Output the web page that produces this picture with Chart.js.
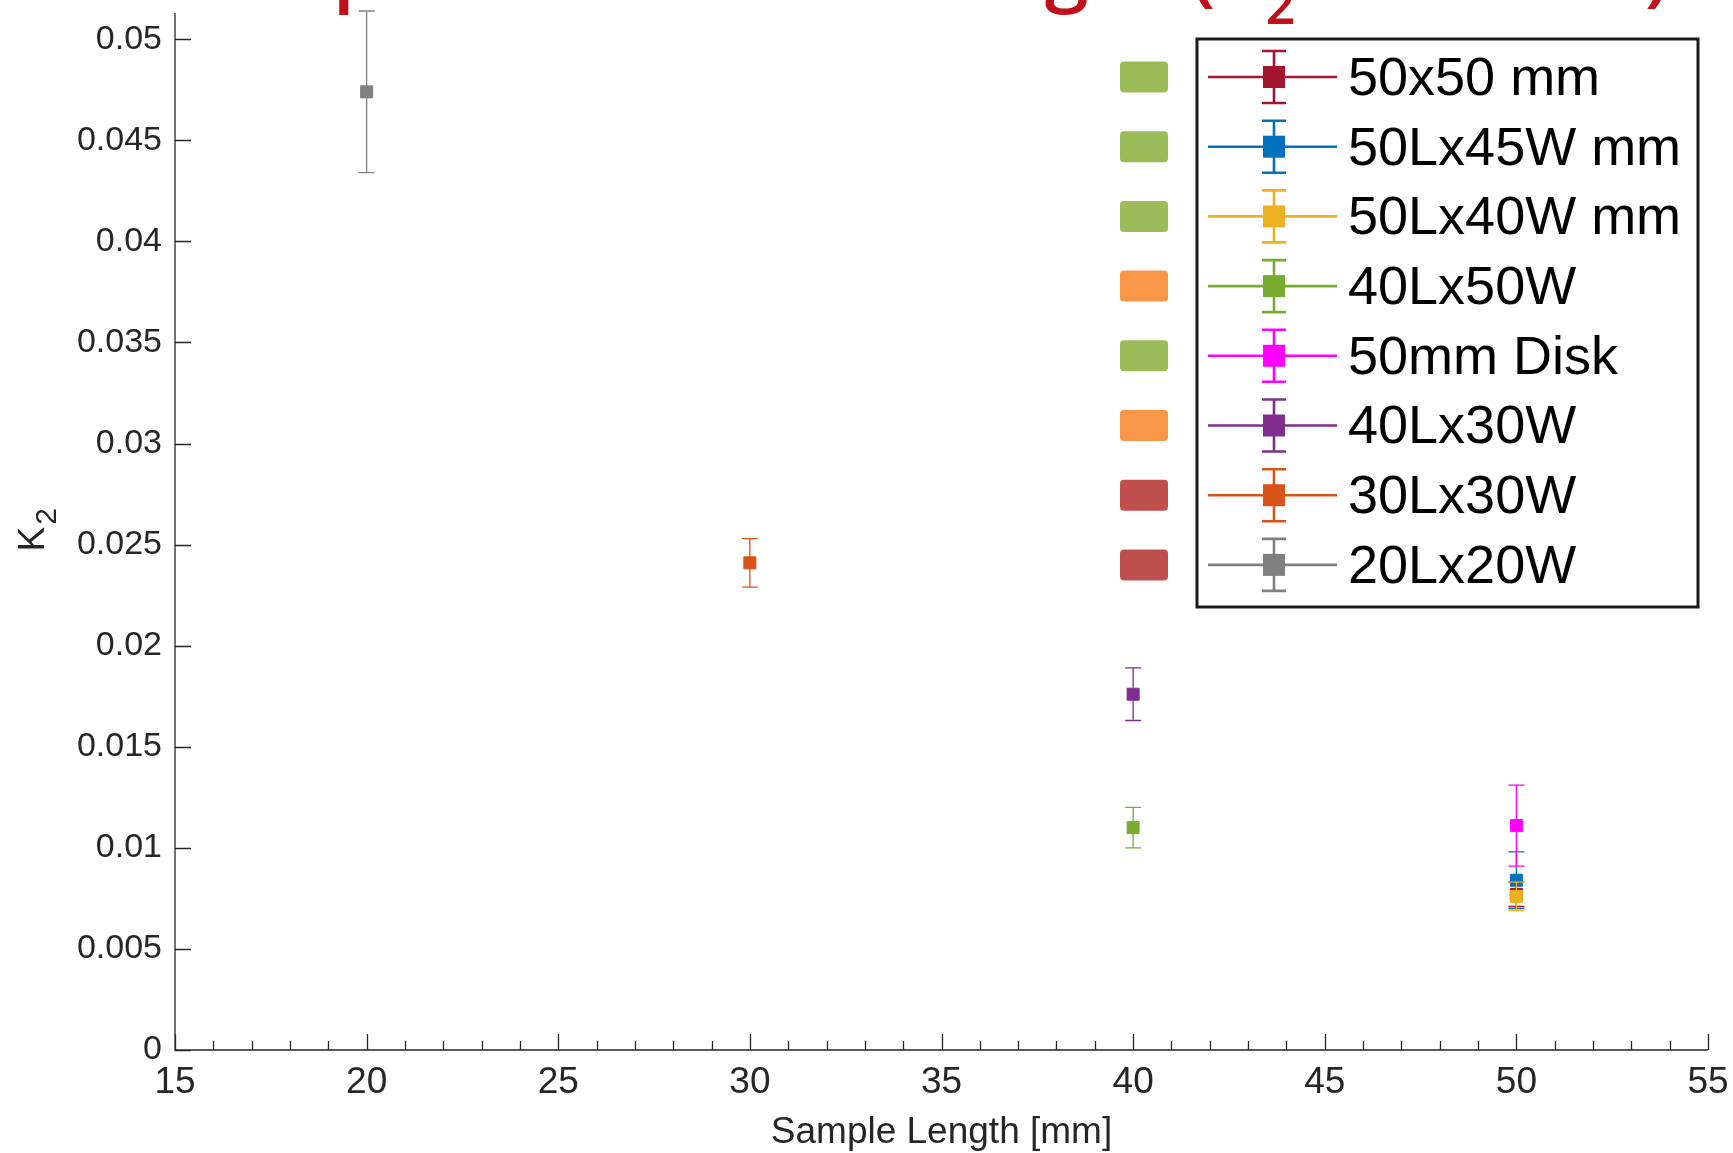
<!DOCTYPE html>
<html>
<head>
<meta charset="utf-8">
<title>K2 vs Sample Length</title>
<script src="https://cdn.jsdelivr.net/npm/chart.js@4.4.0/dist/chart.umd.min.js"></script>
<style>
  html, body { margin: 0; padding: 0; background: #fff; }
  canvas { display: block; }
</style>
</head>
<body>
<canvas id="chart" width="1733" height="1153"></canvas>
<script>
// series, in the order they were plotted (later ones sit on top)
const seriesNames = ["50x50 mm", "50Lx45W mm", "50Lx40W mm", "40Lx50W", "50mm Disk", "40Lx30W", "30Lx30W", "20Lx20W"];
const seriesColors = ["#A2142F", "#0072BD", "#EDB120", "#77AC30", "#FF00FF", "#7E2F8E", "#D95319", "#808080"];
const sampleLength = [50, 50, 50, 40, 50, 40, 30, 20];
const k2Values = [0.0077, 0.0084, 0.0076, 0.0110, 0.0111, 0.0176, 0.0241, 0.0474];
const k2Errors = [0.0006, 0.0014, 0.0007, 0.0010, 0.0020, 0.0013, 0.0012, 0.0040];

// axes
const xTicks = [15, 20, 25, 30, 35, 40, 45, 50, 55];
const yTicks = [0, 0.005, 0.01, 0.015, 0.02, 0.025, 0.03, 0.035, 0.04, 0.045, 0.05];
const yTickLabels = ["0", "0.005", "0.01", "0.015", "0.02", "0.025", "0.03", "0.035", "0.04", "0.045", "0.05"];

// coloured bullets left of the legend (slide decoration)
const bulletColors = ["#9BBB59", "#9BBB59", "#9BBB59", "#F79646", "#9BBB59", "#F79646", "#C0504D", "#C0504D"];

// slide title, mostly cut off at the top edge
const titleParts = [
  { text: "Comparison across Length (K" },
  { text: "2", sub: true },
  { text: "/Sections)" },
];

const AXIS_COLOR = "#262626";
const FONT = "'Liberation Sans', Arial, sans-serif";

const datasets = seriesNames.map((name, i) => ({
  label: name,
  data: [{ x: sampleLength[i], y: k2Values[i] }],
  backgroundColor: seriesColors[i],
  borderColor: seriesColors[i],
  borderWidth: 1,
  pointStyle: "rect",
  pointRadius: 8.5,
  showLine: false,
  order: seriesNames.length - 1 - i,
}));

// error bar of each series, drawn right before its marker
const errorBars = {
  id: "errorBars",
  beforeDatasetDraw(chart, args) {
    const i = args.index;
    const { ctx, scales } = chart;
    const px = scales.x.getPixelForValue(sampleLength[i]);
    const top = scales.y.getPixelForValue(k2Values[i] + k2Errors[i]);
    const bot = scales.y.getPixelForValue(k2Values[i] - k2Errors[i]);
    const cap = 8;
    ctx.save();
    ctx.strokeStyle = seriesColors[i];
    ctx.lineWidth = 1.3;
    ctx.beginPath();
    ctx.moveTo(px, top); ctx.lineTo(px, bot);
    ctx.moveTo(px - cap, top); ctx.lineTo(px + cap, top);
    ctx.moveTo(px - cap, bot); ctx.lineTo(px + cap, bot);
    ctx.stroke();
    ctx.restore();
  },
};

// MATLAB style axes: only left and bottom lines, ticks pointing inward
const matlabAxes = {
  id: "matlabAxes",
  afterDatasetsDraw(chart) {
    const { ctx, chartArea: a, scales } = chart;
    ctx.save();
    ctx.strokeStyle = AXIS_COLOR;
    ctx.lineWidth = 1.3;
    ctx.beginPath();
    ctx.moveTo(a.left, a.top); ctx.lineTo(a.left, a.bottom); ctx.lineTo(a.right, a.bottom);
    yTicks.forEach((v) => {
      const py = Math.round(scales.y.getPixelForValue(v)) + 0.5;
      ctx.moveTo(a.left, py); ctx.lineTo(a.left + 16, py);
    });
    for (let v = xTicks[0]; v <= xTicks[xTicks.length - 1]; v++) {
      const px = Math.round(scales.x.getPixelForValue(v)) + 0.5;
      const len = xTicks.includes(v) ? 16 : 9;
      ctx.moveTo(px, a.bottom); ctx.lineTo(px, a.bottom - len);
    }
    ctx.stroke();

    // y axis label: K with a subscript 2, rotated
    ctx.fillStyle = AXIS_COLOR;
    ctx.translate(44, (a.top + a.bottom) / 2 + 6);
    ctx.rotate(-Math.PI / 2);
    ctx.textBaseline = "alphabetic";
    ctx.font = "37px " + FONT;
    ctx.fillText("K", -14, 0);
    const kw = ctx.measureText("K").width;
    ctx.font = "30px " + FONT;
    ctx.fillText("2", -14 + kw + 2, 12);
    ctx.restore();
  },
};

const legendBox = {
  id: "legendBox",
  afterDraw(chart) {
    const { ctx } = chart;
    const box = { left: 1197, top: 39, right: 1698, bottom: 607 };
    const firstY = 77, stepY = 69.7;
    ctx.save();
    ctx.fillStyle = "#fff";
    ctx.fillRect(box.left, box.top, box.right - box.left, box.bottom - box.top);
    ctx.strokeStyle = "#1a1a1a";
    ctx.lineWidth = 3;
    ctx.strokeRect(box.left, box.top, box.right - box.left, box.bottom - box.top);

    ctx.font = "54px " + FONT;
    ctx.textBaseline = "middle";
    seriesNames.forEach((name, i) => {
      const cy = firstY + i * stepY;
      const cx = 1274;
      ctx.strokeStyle = seriesColors[i];
      ctx.fillStyle = seriesColors[i];
      ctx.lineWidth = 2.6;
      ctx.beginPath();
      ctx.moveTo(1208, cy); ctx.lineTo(1337, cy);
      ctx.moveTo(cx, cy - 26); ctx.lineTo(cx, cy + 26);
      ctx.moveTo(cx - 12, cy - 26); ctx.lineTo(cx + 12, cy - 26);
      ctx.moveTo(cx - 12, cy + 26); ctx.lineTo(cx + 12, cy + 26);
      ctx.stroke();
      ctx.fillRect(cx - 11, cy - 11, 22, 22);
      ctx.fillStyle = "#000";
      ctx.fillText(name, 1348, cy + 3);

      // bullet square at the left
      ctx.fillStyle = bulletColors[i];
      ctx.beginPath();
      ctx.roundRect(1120, cy - 15.5, 48, 31, 4);
      ctx.fill();
    });
    ctx.restore();
  },
};

const slideTitle = {
  id: "slideTitle",
  afterDraw(chart) {
    const { ctx } = chart;
    ctx.save();
    ctx.fillStyle = "#C0101C";
    ctx.textBaseline = "alphabetic";
    let x = 159;
    titleParts.forEach((p) => {
      ctx.font = (p.sub ? "600 52px" : "600 79px") + " 'Open Sans', sans-serif";
      ctx.fillText(p.text, x, p.sub ? 24 : -4);
      x += ctx.measureText(p.text).width;
    });
    ctx.restore();
  },
};

new Chart(document.getElementById("chart"), {
  type: "scatter",
  data: { datasets },
  options: {
    responsive: false,
    animation: false,
    layout: { padding: { top: 13, right: 25, left: 0, bottom: 0 } },
    plugins: {
      legend: { display: false },
      tooltip: { enabled: false },
    },
    scales: {
      x: {
        type: "linear",
        min: 15,
        max: 55,
        grid: { display: false, drawTicks: false },
        border: { display: false },
        afterBuildTicks: (scale) => { scale.ticks = xTicks.map((v) => ({ value: v })); },
        afterFit: (scale) => {
          scale.height = 103;
          scale.paddingLeft = 0;
          scale.paddingRight = 0;
        },
        ticks: {
          autoSkip: false,
          maxRotation: 0,
          padding: 11,
          color: AXIS_COLOR,
          font: { family: FONT, size: 37 },
          callback: (v) => String(v),
        },
        title: {
          display: true,
          text: "Sample Length [mm]",
          color: AXIS_COLOR,
          font: { family: FONT, size: 37, lineHeight: 1.1 },
          padding: { top: 0, bottom: 0 },
        },
      },
      y: {
        type: "linear",
        min: 0,
        max: 0.0513,
        grid: { display: false, drawTicks: false },
        border: { display: false },
        afterBuildTicks: (scale) => { scale.ticks = yTicks.map((v) => ({ value: v })); },
        afterFit: (scale) => {
          scale.width = 175;
          scale.paddingTop = 0;
          scale.paddingBottom = 0;
        },
        ticks: {
          padding: 13,
          color: AXIS_COLOR,
          font: { family: FONT, size: 34 },
          callback: (v) => yTickLabels[yTicks.findIndex((t) => Math.abs(t - v) < 1e-9)],
        },
      },
    },
  },
  plugins: [errorBars, matlabAxes, legendBox, slideTitle],
});
</script>
</body>
</html>
